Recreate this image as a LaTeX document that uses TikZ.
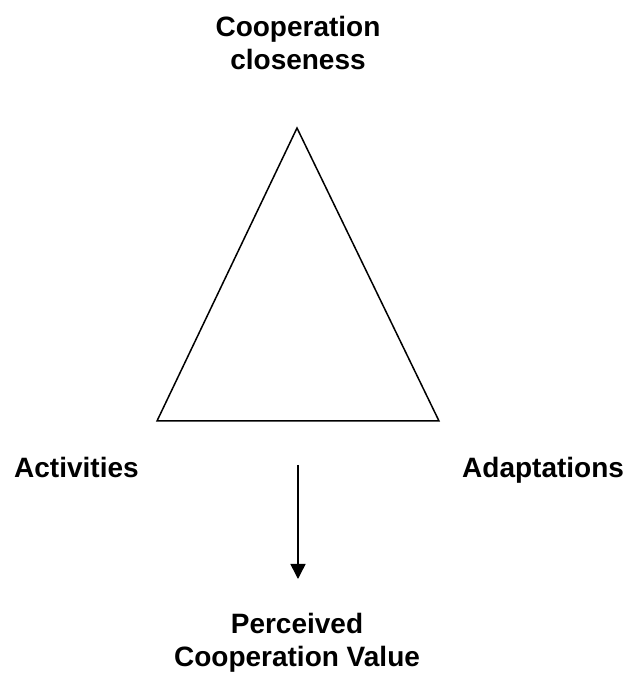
\documentclass[tikz,border=0pt]{standalone}
\usepackage{fontspec}
\setmainfont{Liberation Sans}
\usetikzlibrary{arrows.meta}
\begin{document}
\begin{tikzpicture}[x=1pt,y=1pt,
  lbl/.style={font=\fontsize{28}{33}\selectfont\bfseries, inner sep=0pt, align=center},
  edge/.style={line width=1.5pt, line join=miter},
  flow/.style={line width=1.5pt, -{Triangle[width=15pt,length=15pt]}}]
\useasboundingbox (0,0) rectangle (626,673);
\coordinate (apex) at (297,545);
\coordinate (bl) at (157,252);
\coordinate (br) at (439,252);
\draw[edge] (apex) -- (bl) -- (br) -- cycle;
\node[lbl, anchor=base] (top) at (298,603) {Cooperation\\closeness};
\node[lbl, anchor=base west] (act) at (14,195) {Activities};
\node[lbl, anchor=base west] (adp) at (462,195) {Adaptations};
\node[lbl, anchor=base] (pcv) at (297,6) {Perceived\\Cooperation Value};
\coordinate (s) at (298,208);
\coordinate (e) at (298,94);
\draw[flow] (s) -- (e);
\end{tikzpicture}
\end{document}
